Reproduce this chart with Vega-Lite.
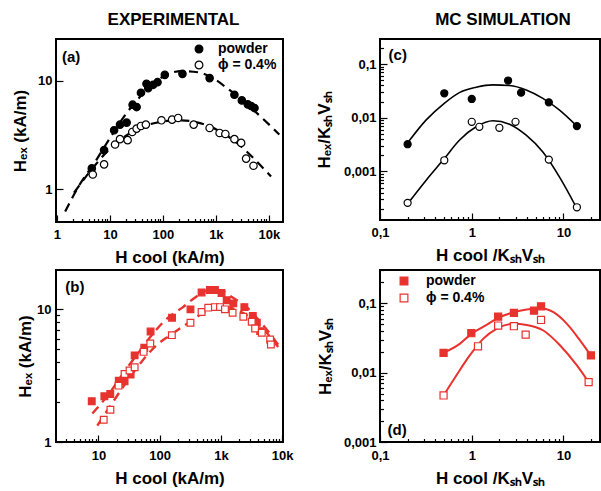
{
  "$schema": "https://vega.github.io/schema/vega-lite/v6.json",
  "padding": {"left": 10, "top": 10, "right": 0, "bottom": 0},
  "bounds": "flush",
  "config": {
    "font": "Liberation Sans",
    "view": {"stroke": "black", "strokeWidth": 2},
    "axis": {"grid": false, "domain": false, "labelFont": "Liberation Sans", "labelFontSize": 13, "labelFontWeight": "bold", "labelColor": "black", "tickColor": "black", "tickWidth": 1.2, "titleFont": "Liberation Sans", "titleFontSize": 17, "titleFontWeight": "bold", "titleColor": "black", "labelOverlap": false, "labelFlush": false},
    "title": {"font": "Liberation Sans", "fontSize": 17, "fontWeight": "bold", "color": "black"}
  },
  "resolve": {"scale": {"fill": "independent"}, "legend": {"fill": "independent"}},
  "datasets": {
    "a_pts": [
      {"x": 4.55, "y": 1.56, "s": "powder"}, {"x": 7.76, "y": 2.30, "s": "powder"}, {"x": 12.0, "y": 3.50, "s": "powder"}, {"x": 15.5, "y": 3.95, "s": "powder"}, {"x": 20.7, "y": 4.12, "s": "powder"}, {"x": 26.8, "y": 6.03, "s": "powder"}, {"x": 31.9, "y": 5.73, "s": "powder"}, {"x": 38.5, "y": 7.76, "s": "powder"}, {"x": 49, "y": 9.4, "s": "powder"}, {"x": 52.8, "y": 8.57, "s": "powder"}, {"x": 65.6, "y": 9.19, "s": "powder"}, {"x": 79.2, "y": 9.72, "s": "powder"}, {"x": 108.7, "y": 11.35, "s": "powder"}, {"x": 234, "y": 11.6, "s": "powder"}, {"x": 762, "y": 10.6, "s": "powder"}, {"x": 2240, "y": 7.44, "s": "powder"}, {"x": 3090, "y": 6.6, "s": "powder"}, {"x": 4000, "y": 6.07, "s": "powder"}, {"x": 4630, "y": 5.86, "s": "powder"}, {"x": 5360, "y": 5.61, "s": "powder"},
      {"x": 4.75, "y": 1.37, "s": "ϕ = 0.4%"}, {"x": 7.76, "y": 1.70, "s": "ϕ = 0.4%"}, {"x": 12.5, "y": 2.59, "s": "ϕ = 0.4%"}, {"x": 15.5, "y": 2.90, "s": "ϕ = 0.4%"}, {"x": 21.6, "y": 2.84, "s": "ϕ = 0.4%"}, {"x": 26.4, "y": 3.38, "s": "ϕ = 0.4%"}, {"x": 31.9, "y": 3.63, "s": "ϕ = 0.4%"}, {"x": 38.5, "y": 3.84, "s": "ϕ = 0.4%"}, {"x": 47.7, "y": 3.95, "s": "ϕ = 0.4%"}, {"x": 94, "y": 4.33, "s": "ϕ = 0.4%"}, {"x": 149, "y": 4.39, "s": "ϕ = 0.4%"}, {"x": 194, "y": 4.55, "s": "ϕ = 0.4%"}, {"x": 381, "y": 3.95, "s": "ϕ = 0.4%"}, {"x": 762, "y": 3.68, "s": "ϕ = 0.4%"}, {"x": 1175, "y": 3.31, "s": "ϕ = 0.4%"}, {"x": 1510, "y": 3.24, "s": "ϕ = 0.4%"}, {"x": 2240, "y": 2.90, "s": "ϕ = 0.4%"}, {"x": 3000, "y": 2.68, "s": "ϕ = 0.4%"}, {"x": 3720, "y": 1.92, "s": "ϕ = 0.4%"}, {"x": 5130, "y": 1.65, "s": "ϕ = 0.4%"}
    ],
    "a_crv": [
      {"x": 1.43, "y": 0.624, "s": "powder"}, {"x": 2.55, "y": 1.06, "s": "powder"}, {"x": 5.25, "y": 1.79, "s": "powder"}, {"x": 10.8, "y": 3.15, "s": "powder"}, {"x": 19.2, "y": 4.81, "s": "powder"}, {"x": 34.3, "y": 6.84, "s": "powder"}, {"x": 61, "y": 9.06, "s": "powder"}, {"x": 109, "y": 11.2, "s": "powder"}, {"x": 224, "y": 12.3, "s": "powder"}, {"x": 460, "y": 12.0, "s": "powder"}, {"x": 820, "y": 10.8, "s": "powder"}, {"x": 1690, "y": 8.45, "s": "powder"}, {"x": 3470, "y": 6.37, "s": "powder"}, {"x": 7130, "y": 4.64, "s": "powder"}, {"x": 15800, "y": 3.2, "s": "powder"},
      {"x": 2.1, "y": 0.93, "s": "film"}, {"x": 5.25, "y": 1.67, "s": "film"}, {"x": 10.8, "y": 2.46, "s": "film"}, {"x": 22.2, "y": 3.22, "s": "film"}, {"x": 45.7, "y": 3.84, "s": "film"}, {"x": 109, "y": 4.24, "s": "film"}, {"x": 224, "y": 4.33, "s": "film"}, {"x": 460, "y": 4.12, "s": "film"}, {"x": 1096, "y": 3.5, "s": "film"}, {"x": 2600, "y": 2.64, "s": "film"}, {"x": 5350, "y": 1.90, "s": "film"}, {"x": 11000, "y": 1.31, "s": "film"}
    ],
    "b_pts": [
      {"x": 7.78, "y": 2.03, "s": "powder"}, {"x": 12.5, "y": 2.21, "s": "powder"}, {"x": 15.6, "y": 2.30, "s": "powder"}, {"x": 21.5, "y": 2.90, "s": "powder"}, {"x": 26.7, "y": 2.87, "s": "powder"}, {"x": 33.5, "y": 3.22, "s": "powder"}, {"x": 39, "y": 4.50, "s": "powder"}, {"x": 56, "y": 5.13, "s": "powder"}, {"x": 71, "y": 6.8, "s": "powder"}, {"x": 159, "y": 8.65, "s": "powder"}, {"x": 318, "y": 10.0, "s": "powder"}, {"x": 483, "y": 13.4, "s": "powder"}, {"x": 661, "y": 14.0, "s": "powder"}, {"x": 797, "y": 14.0, "s": "powder"}, {"x": 1023, "y": 13.3, "s": "powder"}, {"x": 1240, "y": 11.7, "s": "powder"}, {"x": 1590, "y": 11.1, "s": "powder"}, {"x": 2410, "y": 10.4, "s": "powder"}, {"x": 3310, "y": 8.9, "s": "powder"}, {"x": 3850, "y": 7.92, "s": "powder"}, {"x": 4370, "y": 6.85, "s": "powder"},
      {"x": 12.2, "y": 1.47, "s": "ϕ = 0.4%"}, {"x": 15.7, "y": 1.75, "s": "ϕ = 0.4%"}, {"x": 21.3, "y": 2.66, "s": "ϕ = 0.4%"}, {"x": 26.7, "y": 3.26, "s": "ϕ = 0.4%"}, {"x": 32.2, "y": 3.46, "s": "ϕ = 0.4%"}, {"x": 39, "y": 3.66, "s": "ϕ = 0.4%"}, {"x": 54.7, "y": 4.78, "s": "ϕ = 0.4%"}, {"x": 70.3, "y": 5.53, "s": "ϕ = 0.4%"}, {"x": 158, "y": 6.39, "s": "ϕ = 0.4%"}, {"x": 318, "y": 7.93, "s": "ϕ = 0.4%"}, {"x": 483, "y": 9.55, "s": "ϕ = 0.4%"}, {"x": 620, "y": 10.3, "s": "ϕ = 0.4%"}, {"x": 797, "y": 10.4, "s": "ϕ = 0.4%"}, {"x": 964, "y": 10.4, "s": "ϕ = 0.4%"}, {"x": 1163, "y": 10.0, "s": "ϕ = 0.4%"}, {"x": 1550, "y": 9.42, "s": "ϕ = 0.4%"}, {"x": 2320, "y": 8.79, "s": "ϕ = 0.4%"}, {"x": 3180, "y": 8.06, "s": "ϕ = 0.4%"}, {"x": 3610, "y": 7.18, "s": "ϕ = 0.4%"}, {"x": 4640, "y": 6.65, "s": "ϕ = 0.4%"}, {"x": 6350, "y": 5.93, "s": "ϕ = 0.4%"}, {"x": 6530, "y": 5.43, "s": "ϕ = 0.4%"}
    ],
    "b_crv": [
      {"x": 7.97, "y": 1.64, "s": "powder"}, {"x": 15.1, "y": 2.33, "s": "powder"}, {"x": 26.7, "y": 3.41, "s": "powder"}, {"x": 47, "y": 4.84, "s": "powder"}, {"x": 83, "y": 6.8, "s": "powder"}, {"x": 120, "y": 8.2, "s": "powder"}, {"x": 240, "y": 10.4, "s": "powder"}, {"x": 400, "y": 12.5, "s": "powder"}, {"x": 700, "y": 14.2, "s": "powder"}, {"x": 1040, "y": 13.8, "s": "powder"}, {"x": 1500, "y": 12.4, "s": "powder"}, {"x": 2500, "y": 10.6, "s": "powder"}, {"x": 4000, "y": 8.45, "s": "powder"}, {"x": 6400, "y": 6.5, "s": "powder"}, {"x": 8900, "y": 5.3, "s": "powder"},
      {"x": 9.6, "y": 1.33, "s": "film"}, {"x": 16, "y": 1.9, "s": "film"}, {"x": 29, "y": 2.85, "s": "film"}, {"x": 50, "y": 4.0, "s": "film"}, {"x": 90, "y": 5.4, "s": "film"}, {"x": 150, "y": 6.4, "s": "film"}, {"x": 280, "y": 7.8, "s": "film"}, {"x": 500, "y": 9.3, "s": "film"}, {"x": 800, "y": 10.2, "s": "film"}, {"x": 1300, "y": 10.3, "s": "film"}, {"x": 2000, "y": 9.7, "s": "film"}, {"x": 3200, "y": 8.5, "s": "film"}, {"x": 5200, "y": 6.9, "s": "film"}, {"x": 8600, "y": 5.2, "s": "film"}
    ],
    "c_pts": [
      {"x": 0.2, "y": 0.00321, "s": "powder"}, {"x": 0.502, "y": 0.0286, "s": "powder"}, {"x": 1.0, "y": 0.0224, "s": "powder"}, {"x": 2.49, "y": 0.0494, "s": "powder"}, {"x": 3.45, "y": 0.0294, "s": "powder"}, {"x": 6.92, "y": 0.0194, "s": "powder"}, {"x": 14.0, "y": 0.00698, "s": "powder"},
      {"x": 0.2, "y": 0.000259, "s": "ϕ = 0.4%"}, {"x": 0.502, "y": 0.00161, "s": "ϕ = 0.4%"}, {"x": 1.0, "y": 0.0084, "s": "ϕ = 0.4%"}, {"x": 1.21, "y": 0.00678, "s": "ϕ = 0.4%"}, {"x": 2.0, "y": 0.0065, "s": "ϕ = 0.4%"}, {"x": 3.0, "y": 0.0084, "s": "ϕ = 0.4%"}, {"x": 6.92, "y": 0.00166, "s": "ϕ = 0.4%"}, {"x": 14.0, "y": 0.000214, "s": "ϕ = 0.4%"}
    ],
    "c_crv": [
      {"x": 0.2, "y": 0.0034, "s": "powder"}, {"x": 0.317, "y": 0.00904, "s": "powder"}, {"x": 0.502, "y": 0.0186, "s": "powder"}, {"x": 0.733, "y": 0.0294, "s": "powder"}, {"x": 1.117, "y": 0.037, "s": "powder"}, {"x": 1.70, "y": 0.041, "s": "powder"}, {"x": 2.58, "y": 0.0398, "s": "powder"}, {"x": 3.92, "y": 0.033, "s": "powder"}, {"x": 5.96, "y": 0.023, "s": "powder"}, {"x": 9.06, "y": 0.0139, "s": "powder"}, {"x": 14.0, "y": 0.00698, "s": "powder"},
      {"x": 0.2, "y": 0.000248, "s": "film"}, {"x": 0.317, "y": 0.000678, "s": "film"}, {"x": 0.502, "y": 0.00173, "s": "film"}, {"x": 0.733, "y": 0.00381, "s": "film"}, {"x": 1.117, "y": 0.00678, "s": "film"}, {"x": 1.70, "y": 0.0088, "s": "film"}, {"x": 2.58, "y": 0.0076, "s": "film"}, {"x": 3.92, "y": 0.00473, "s": "film"}, {"x": 5.96, "y": 0.0023, "s": "film"}, {"x": 9.06, "y": 0.000783, "s": "film"}, {"x": 13.8, "y": 0.000214, "s": "film"}
    ],
    "d_pts": [
      {"x": 0.493, "y": 0.0193, "s": "powder"}, {"x": 0.99, "y": 0.037, "s": "powder"}, {"x": 1.94, "y": 0.0643, "s": "powder"}, {"x": 2.88, "y": 0.0726, "s": "powder"}, {"x": 4.77, "y": 0.0783, "s": "powder"}, {"x": 5.69, "y": 0.0906, "s": "powder"}, {"x": 19.9, "y": 0.0177, "s": "powder"},
      {"x": 0.493, "y": 0.00469, "s": "ϕ = 0.4%"}, {"x": 1.17, "y": 0.024, "s": "ϕ = 0.4%"}, {"x": 1.94, "y": 0.0478, "s": "ϕ = 0.4%"}, {"x": 2.88, "y": 0.0467, "s": "ϕ = 0.4%"}, {"x": 3.87, "y": 0.0354, "s": "ϕ = 0.4%"}, {"x": 5.69, "y": 0.0575, "s": "ϕ = 0.4%"}, {"x": 18.8, "y": 0.0073, "s": "ϕ = 0.4%"}
    ],
    "d_crv": [
      {"x": 0.493, "y": 0.0193, "s": "powder"}, {"x": 0.739, "y": 0.026, "s": "powder"}, {"x": 0.99, "y": 0.0362, "s": "powder"}, {"x": 1.45, "y": 0.0488, "s": "powder"}, {"x": 1.94, "y": 0.0615, "s": "powder"}, {"x": 2.88, "y": 0.0743, "s": "powder"}, {"x": 3.97, "y": 0.0811, "s": "powder"}, {"x": 5.56, "y": 0.0848, "s": "powder"}, {"x": 7.78, "y": 0.0743, "s": "powder"}, {"x": 10.9, "y": 0.0505, "s": "powder"}, {"x": 15.2, "y": 0.029, "s": "powder"}, {"x": 19.9, "y": 0.0177, "s": "powder"},
      {"x": 0.493, "y": 0.00469, "s": "film"}, {"x": 0.679, "y": 0.0091, "s": "film"}, {"x": 0.951, "y": 0.0177, "s": "film"}, {"x": 1.33, "y": 0.0307, "s": "film"}, {"x": 1.86, "y": 0.0428, "s": "film"}, {"x": 2.84, "y": 0.0505, "s": "film"}, {"x": 3.97, "y": 0.0488, "s": "film"}, {"x": 6.04, "y": 0.0405, "s": "film"}, {"x": 9.2, "y": 0.0246, "s": "film"}, {"x": 14.0, "y": 0.0127, "s": "film"}, {"x": 18.8, "y": 0.0073, "s": "film"}
    ]
  },
  "columns": 2,
  "spacing": {"row": 48, "column": 97},
  "concat": [
    {
      "width": 227, "height": 183,
      "title": {"text": "EXPERIMENTAL", "offset": 10, "dx": 4},
      "layer": [
        {
          "data": {"name": "a_crv"},
          "mark": {"type": "line", "strokeDash": [9, 6], "strokeWidth": 2.2, "color": "black", "interpolate": "monotone", "clip": true},
          "encoding": {
            "x": {"field": "x", "type": "quantitative", "scale": {"type": "log", "domain": [0.96, 18500], "nice": false},
              "axis": {"values": [1,2,3,4,5,6,7,8,9,10,20,30,40,50,60,70,80,90,100,200,300,400,500,600,700,800,900,1000,2000,3000,4000,5000,6000,7000,8000,9000,10000],
                "tickSize": {"condition": {"test": "abs(log(datum.value)/LN10 - round(log(datum.value)/LN10)) < 0.001", "value": -7}, "value": -3.5},
                "labelExpr": "abs(log(datum.value)/LN10 - round(log(datum.value)/LN10)) < 0.001 ? (datum.value >= 1000 ? round(datum.value/1000) + 'k' : round(datum.value) + '') : ''",
                "labelPadding": 13, "title": "H cool (kA/m)", "titlePadding": 5}},
            "y": {"field": "y", "type": "quantitative", "scale": {"type": "log", "domain": [0.5, 24.3], "nice": false},
              "axis": {"values": [1, 10], "tickSize": -7, "labelExpr": "round(datum.value) + ''", "labelPadding": 11, "title": "Hₑₓ (kA/m)", "titlePadding": 8}},
            "detail": {"field": "s"}
          }
        },
        {
          "data": {"name": "a_pts"},
          "mark": {"type": "point", "shape": "circle", "filled": true, "size": 55, "stroke": "black", "strokeWidth": 1.2, "opacity": 1},
          "encoding": {
            "x": {"field": "x", "type": "quantitative"},
            "y": {"field": "y", "type": "quantitative"},
            "fill": {"field": "s", "type": "nominal", "scale": {"domain": ["powder", "ϕ = 0.4%"], "range": ["black", "white"]},
              "legend": {"orient": "top-left", "offset": 3, "padding": 0, "title": null, "symbolOffset": 133, "labelFontSize": 14, "labelFontWeight": "bold", "labelColor": "black", "labelOffset": 12, "symbolSize": 60, "symbolStrokeColor": "black", "symbolStrokeWidth": 1.2, "symbolType": "circle", "rowPadding": 2}}
          }
        },
        {
          "data": {"values": [{"t": "(a)"}]},
          "mark": {"type": "text", "fontSize": 15, "fontWeight": "bold", "align": "left", "baseline": "middle", "color": "black"},
          "encoding": {"x": {"datum": 1.24}, "y": {"datum": 16.5}, "text": {"field": "t"}}
        }
      ]
    },
    {
      "width": 220, "height": 181,
      "title": {"text": "MC SIMULATION", "offset": 10, "dx": 13},
      "layer": [
        {
          "data": {"name": "c_crv"},
          "mark": {"type": "line", "strokeWidth": 1.6, "color": "black", "interpolate": "monotone", "clip": true},
          "encoding": {
            "x": {"field": "x", "type": "quantitative", "scale": {"type": "log", "domain": [0.1, 25], "nice": false},
              "axis": {"values": [0.1,0.2,0.3,0.4,0.5,0.6,0.7,0.8,0.9,1,2,3,4,5,6,7,8,9,10,20],
                "tickSize": {"condition": {"test": "abs(log(datum.value)/LN10 - round(log(datum.value)/LN10)) < 0.001", "value": -7}, "value": -3.5},
                "labelExpr": "abs(log(datum.value)/LN10 - round(log(datum.value)/LN10)) < 0.001 ? replace(datum.value + '', '.', ',') : ''",
                "labelPadding": 13, "title": "H cool /KₛₕVₛₕ", "titlePadding": 5}},
            "y": {"field": "y", "type": "quantitative", "scale": {"type": "log", "domain": [0.000124, 0.294], "nice": false},
              "axis": {"values": [0.0002,0.0003,0.0004,0.0005,0.0006,0.0007,0.0008,0.0009,0.001,0.002,0.003,0.004,0.005,0.006,0.007,0.008,0.009,0.01,0.02,0.03,0.04,0.05,0.06,0.07,0.08,0.09,0.1,0.2],
                "tickSize": {"condition": {"test": "abs(log(datum.value)/LN10 - round(log(datum.value)/LN10)) < 0.001", "value": -7}, "value": -3.5},
                "labelExpr": "abs(log(datum.value)/LN10 - round(log(datum.value)/LN10)) < 0.001 ? replace(datum.value + '', '.', ',') : ''",
                "labelPadding": 11, "title": "Hₑₓ/KₛₕVₛₕ", "titlePadding": 10}},
            "detail": {"field": "s"}
          }
        },
        {
          "data": {"name": "c_pts"},
          "mark": {"type": "point", "shape": "circle", "filled": true, "size": 50, "stroke": "black", "strokeWidth": 1.2, "opacity": 1},
          "encoding": {
            "x": {"field": "x", "type": "quantitative"},
            "y": {"field": "y", "type": "quantitative"},
            "fill": {"field": "s", "type": "nominal", "scale": {"domain": ["powder", "ϕ = 0.4%"], "range": ["black", "white"]}, "legend": null}
          }
        },
        {
          "data": {"values": [{"t": "(c)"}]},
          "mark": {"type": "text", "fontSize": 15, "fontWeight": "bold", "align": "left", "baseline": "middle", "color": "black"},
          "encoding": {"x": {"datum": 0.124}, "y": {"datum": 0.15}, "text": {"field": "t"}}
        }
      ]
    },
    {
      "width": 227, "height": 172,
      "layer": [
        {
          "data": {"name": "b_crv"},
          "mark": {"type": "line", "strokeDash": [9, 6], "strokeWidth": 2.4, "color": "#e8322e", "interpolate": "monotone", "clip": true},
          "encoding": {
            "x": {"field": "x", "type": "quantitative", "scale": {"type": "log", "domain": [2.03, 10300], "nice": false},
              "axis": {"values": [3,4,5,6,7,8,9,10,20,30,40,50,60,70,80,90,100,200,300,400,500,600,700,800,900,1000,2000,3000,4000,5000,6000,7000,8000,9000,10000],
                "tickSize": {"condition": {"test": "abs(log(datum.value)/LN10 - round(log(datum.value)/LN10)) < 0.001", "value": -7}, "value": -3.5},
                "labelExpr": "abs(log(datum.value)/LN10 - round(log(datum.value)/LN10)) < 0.001 ? (datum.value >= 1000 ? round(datum.value/1000) + 'k' : round(datum.value) + '') : ''",
                "labelPadding": 14, "title": "H cool (kA/m)", "titlePadding": 5}},
            "y": {"field": "y", "type": "quantitative", "scale": {"type": "log", "domain": [1, 19.8], "nice": false},
              "axis": {"values": [1,2,3,4,5,6,7,8,9,10],
                "tickSize": {"condition": {"test": "abs(log(datum.value)/LN10 - round(log(datum.value)/LN10)) < 0.001", "value": -7}, "value": -3.5},
                "labelExpr": "abs(log(datum.value)/LN10 - round(log(datum.value)/LN10)) < 0.001 ? round(datum.value) + '' : ''",
                "labelPadding": 12, "title": "Hₑₓ (kA/m)", "titlePadding": 2}},
            "detail": {"field": "s"}
          }
        },
        {
          "data": {"name": "b_pts"},
          "mark": {"type": "point", "shape": "square", "filled": true, "size": 45, "stroke": "#e8322e", "strokeWidth": 1.2, "opacity": 1},
          "encoding": {
            "x": {"field": "x", "type": "quantitative"},
            "y": {"field": "y", "type": "quantitative"},
            "fill": {"field": "s", "type": "nominal", "scale": {"domain": ["powder", "ϕ = 0.4%"], "range": ["#e8322e", "white"]}, "legend": null}
          }
        },
        {
          "data": {"values": [{"t": "(b)"}]},
          "mark": {"type": "text", "fontSize": 15, "fontWeight": "bold", "align": "left", "baseline": "middle", "color": "black"},
          "encoding": {"x": {"datum": 2.88}, "y": {"datum": 14.7}, "text": {"field": "t"}}
        }
      ]
    },
    {
      "width": 220, "height": 172,
      "layer": [
        {
          "data": {"name": "d_crv"},
          "mark": {"type": "line", "strokeWidth": 2, "color": "#e8322e", "interpolate": "monotone", "clip": true},
          "encoding": {
            "x": {"field": "x", "type": "quantitative", "scale": {"type": "log", "domain": [0.1, 25], "nice": false},
              "axis": {"values": [0.1,0.2,0.3,0.4,0.5,0.6,0.7,0.8,0.9,1,2,3,4,5,6,7,8,9,10,20],
                "tickSize": {"condition": {"test": "abs(log(datum.value)/LN10 - round(log(datum.value)/LN10)) < 0.001", "value": -7}, "value": -3.5},
                "labelExpr": "abs(log(datum.value)/LN10 - round(log(datum.value)/LN10)) < 0.001 ? replace(datum.value + '', '.', ',') : ''",
                "labelPadding": 14, "title": "H cool /KₛₕVₛₕ", "titlePadding": 5}},
            "y": {"field": "y", "type": "quantitative", "scale": {"type": "log", "domain": [0.001, 0.302], "nice": false},
              "axis": {"values": [0.001,0.002,0.003,0.004,0.005,0.006,0.007,0.008,0.009,0.01,0.02,0.03,0.04,0.05,0.06,0.07,0.08,0.09,0.1,0.2,0.3],
                "tickSize": {"condition": {"test": "abs(log(datum.value)/LN10 - round(log(datum.value)/LN10)) < 0.001", "value": -7}, "value": -3.5},
                "labelExpr": "abs(log(datum.value)/LN10 - round(log(datum.value)/LN10)) < 0.001 ? replace(datum.value + '', '.', ',') : ''",
                "labelPadding": 11, "title": "Hₑₓ/KₛₕVₛₕ", "titlePadding": 9}},
            "detail": {"field": "s"}
          }
        },
        {
          "data": {"name": "d_pts"},
          "mark": {"type": "point", "shape": "square", "filled": true, "size": 50, "stroke": "#e8322e", "strokeWidth": 1.2, "opacity": 1},
          "encoding": {
            "x": {"field": "x", "type": "quantitative"},
            "y": {"field": "y", "type": "quantitative"},
            "fill": {"field": "s", "type": "nominal", "scale": {"domain": ["powder", "ϕ = 0.4%"], "range": ["#e8322e", "white"]},
              "legend": {"orient": "top-left", "offset": 4, "padding": 0, "title": null, "symbolOffset": 13, "labelFontSize": 14, "labelFontWeight": "bold", "labelColor": "black", "labelOffset": 15, "symbolSize": 60, "symbolStrokeColor": "#e8322e", "symbolStrokeWidth": 1.2, "symbolType": "square", "rowPadding": 3}}
          }
        },
        {
          "data": {"values": [{"t": "(d)"}]},
          "mark": {"type": "text", "fontSize": 15, "fontWeight": "bold", "align": "left", "baseline": "middle", "color": "black"},
          "encoding": {"x": {"datum": 0.121}, "y": {"datum": 0.00147}, "text": {"field": "t"}}
        }
      ]
    }
  ]
}
